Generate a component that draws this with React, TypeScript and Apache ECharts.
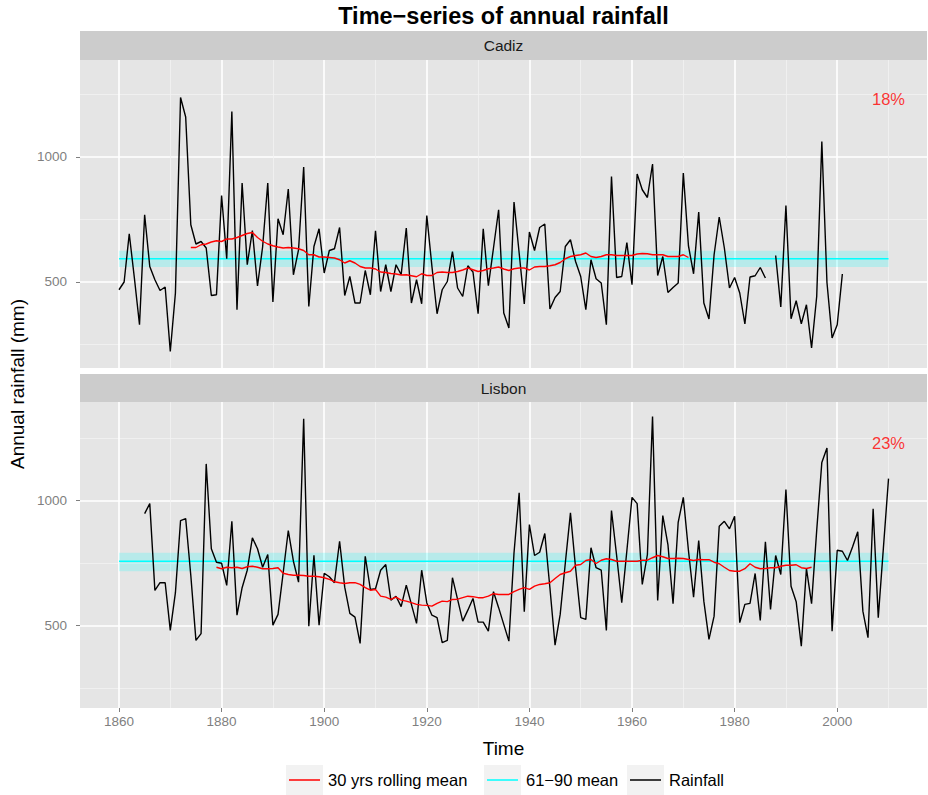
import React, { useEffect, useRef } from "react";
import * as echarts from "echarts";

// ---------------- data ----------------
const cadizStartYear = 1860;
const cadizRainfall = [
  468, 499, 692, 515, 328, 768, 561, 508, 465, 479,
  221, 455, 1237, 1159, 728, 651, 661, 635, 445, 448,
  845, 592, 1181, 388, 895, 568, 705, 483, 640, 895,
  419, 752, 688, 871, 528, 628, 959, 401, 641, 712,
  535, 625, 632, 717, 445, 521, 415, 415, 545, 448,
  704, 461, 568, 461, 568, 528, 715, 415, 508, 412,
  765, 561, 372, 468, 501, 621, 475, 441, 564, 539,
  372, 712, 484, 635, 788, 375, 315, 819, 615, 411,
  699, 625, 717, 731, 391, 437, 461, 641, 668, 581,
  521, 388, 588, 512, 495, 328, 921, 517, 521, 657,
  488, 931, 868, 837, 971, 525, 601, 457, 477, 495,
  935, 644, 532, 779, 415, 351, 608, 759, 635, 475,
  517, 455, 331, 519, 524, 557, 515, null, 605, 399,
  805, 352, 424, 332, 408, 235, 441, 1061, 497, 275,
  328, 531,
];
const cadizRollStartYear = 1874;
const cadizRolling = [
  637, 637, 648, 651, 659, 664, 661, 671, 671, 677,
  685, 693, 697, 677, 662, 651, 644, 639, 635, 637,
  635, 632, 625, 608, 608, 599, 599, 597, 595, 588,
  575, 584, 575, 561, 555, 555, 551, 539, 537, 533,
  531, 527, 528, 524, 520, 532, 525, 525, 537, 539,
  537, 537, 541, 547, 555, 548, 541, 545, 552, 555,
  559, 551, 545, 552, 555, 555, 547, 559, 561, 561,
  564, 568, 577, 592, 601, 605, 608, 615, 601, 597,
  601, 608, 608, 605, 605, 605, 605, 611, 613, 612,
  608, 608, 608, 601, 601, 601, 608, 597,
];
const lisbonStartYear = 1865;
const lisbonRainfall = [
  948, 988, 640, 671, 671, 480, 631, 920, 928, 700,
  440, 467, 1147, 807, 753, 749, 660, 917, 541, 651,
  721, 851, 807, 733, 784, 501, 544, 710, 880, 757,
  673, 1328, 497, 781, 501, 709, 695, 671, 837, 653,
  548, 533, 428, 777, 644, 647, 721, 744, 601, 617,
  575, 661, 584, 508, 721, 590, 541, 531, 431, 440,
  691, 604, 517, 561, 608, 513, 513, 477, 635, 571,
  504, 437, 791, 1031, 555, 904, 780, 793, 868, 650,
  421, 544, 750, 951, 730, 531, 524, 811, 731, 721,
  480, 960, 780, 591, 800, 1013, 988, 664, 784, 1337,
  600, 940, 824, 587, 913, 1013, 800, 613, 840, 597,
  444, 537, 897, 917, 887, 937, 511, 584, 588, 708,
  520, 835, 564, 780, 704, 1044, 657, 595, 417, 728,
  587, 880, 1153, 1211, 477, 801, 797, 760, 815, 875,
  557, 451, 967, 531, 810, 1088,
];
const lisbonRollStartYear = 1879;
const lisbonRolling = [
  733, 727, 733, 731, 733, 728, 735, 737, 733, 727,
  727, 728, 731, 709, 704, 701, 701, 700, 697, 697,
  695, 691, 684, 675, 671, 668, 671, 671, 664, 651,
  641, 644, 617, 613, 604, 613, 601, 597, 591, 584,
  581, 580, 577, 588, 597, 595, 604, 605, 611, 617,
  615, 611, 611, 617, 627, 624, 624, 624, 635, 644,
  651, 644, 657, 664, 667, 671, 688, 704, 711, 717,
  741, 744, 760, 764, 748, 761, 767, 764, 757, 757,
  757, 757, 757, 761, 761, 771, 780, 775, 768, 768,
  769, 768, 764, 760, 764, 763, 763, 753, 747, 733,
  720, 717, 717, 727, 747, 733, 727, 728, 731, 731,
  737, 741, 741, 743, 731, 728, 733,
];

const stationNames = ["Cadiz", "Lisbon"];
const refMeans = [592, 757];
const refBandLow = [559, 717];
const refBandHigh = [624, 791];
const refYears = [1860, 2010];
const changeLabels = ["18%", "23%"];
const changeLabelYear = 2010;
const changeLabelValue = 1232;

const xMajorTicks = [1860, 1880, 1900, 1920, 1940, 1960, 1980, 2000];
const xMinorTicks = [1870, 1890, 1910, 1930, 1950, 1970, 1990, 2010];
const yMajorTicks = [500, 1000];
const yMinorTicks = [250, 750, 1250];

const legendNames = ["30 yrs rolling mean", "61−90 mean", "Rainfall"];
const titleText = "Time−series of annual rainfall";
const xTitle = "Time";
const yTitle = "Annual rainfall (mm)";

// ---------------- styling / layout ----------------
const FONT = "'Liberation Sans', Arial, Helvetica, sans-serif";
const PANEL_LEFT = 80;
const PANEL_WIDTH = 847;
const panels = [
  { top: 60, height: 308, stripTop: 31, yMin: 155, yMax: 1387 },
  { top: 402, height: 306, stripTop: 374, yMin: 169, yMax: 1395 },
];
const X_MIN = 1852.4;
const X_MAX = 2017.5;
const COLORS = { roll: "#FF0000", ref: "#00FFFF", rain: "#000000" };
const legendLefts = [289, 487, 630];
const legendKeyLefts = [286, 484, 627];

function toPairs(start: number, values: (number | null)[]) {
  return values.map((v, i) => [start + i, v]);
}

const rainSeries = [
  toPairs(cadizStartYear, cadizRainfall),
  toPairs(lisbonStartYear, lisbonRainfall),
];
const rollSeries = [
  toPairs(cadizRollStartYear, cadizRolling),
  toPairs(lisbonRollStartYear, lisbonRolling),
];

function gridLines(color: string, width: number) {
  return {
    show: true,
    showMinLine: true,
    showMaxLine: true,
    lineStyle: { color, width },
  };
}

function buildOption() {
  const grid = panels.map((p) => ({
    left: PANEL_LEFT,
    top: p.top,
    width: PANEL_WIDTH,
    height: p.height,
    show: true,
    backgroundColor: "#E5E5E5",
    borderWidth: 0,
    containLabel: false,
  }));

  const xAxis: any[] = [];
  const yAxis: any[] = [];
  panels.forEach((p, i) => {
    const isBottom = i === panels.length - 1;
    xAxis.push({
      type: "value",
      gridIndex: i,
      min: X_MIN,
      max: X_MAX,
      position: "bottom",
      axisLine: { show: false },
      axisTick: {
        show: isBottom,
        customValues: xMajorTicks,
        length: 4,
        lineStyle: { color: "#7F7F7F", width: 1 },
      },
      axisLabel: {
        show: isBottom,
        customValues: xMajorTicks,
        color: "#7F7F7F",
        fontSize: 13.5,
        fontFamily: FONT,
        margin: 6,
        formatter: (v: number) => String(v),
      },
      splitLine: gridLines("#FFFFFF", 1.6),
    });
    xAxis.push({
      type: "value",
      gridIndex: i,
      min: X_MIN,
      max: X_MAX,
      position: "top",
      axisLine: { show: false },
      axisTick: { show: false, customValues: xMinorTicks },
      axisLabel: { show: false, customValues: xMinorTicks },
      splitLine: gridLines("#F2F2F2", 0.8),
    });
    yAxis.push({
      type: "value",
      gridIndex: i,
      min: p.yMin,
      max: p.yMax,
      position: "left",
      axisLine: { show: false },
      axisTick: {
        show: true,
        customValues: yMajorTicks,
        length: 4,
        lineStyle: { color: "#7F7F7F", width: 1 },
      },
      axisLabel: {
        show: true,
        customValues: yMajorTicks,
        color: "#7F7F7F",
        fontSize: 13.5,
        fontFamily: FONT,
        margin: 13,
        formatter: (v: number) => String(v),
      },
      splitLine: gridLines("#FFFFFF", 1.6),
    });
    yAxis.push({
      type: "value",
      gridIndex: i,
      min: p.yMin,
      max: p.yMax,
      position: "right",
      axisLine: { show: false },
      axisTick: { show: false, customValues: yMinorTicks },
      axisLabel: { show: false, customValues: yMinorTicks },
      splitLine: gridLines("#F2F2F2", 0.8),
    });
  });

  const series: any[] = [];
  panels.forEach((p, i) => {
    const xi = i * 2;
    const yi = i * 2;
    series.push({
      type: "line",
      name: legendNames[1],
      xAxisIndex: xi,
      yAxisIndex: yi,
      data: refYears.map((yr) => [yr, refMeans[i]]),
      symbol: "none",
      silent: true,
      itemStyle: { color: COLORS.ref },
      lineStyle: { color: COLORS.ref, width: 1.4 },
      markArea: {
        silent: true,
        itemStyle: { color: "rgba(0,255,255,0.2)" },
        label: { show: false },
        data: [
          [
            { xAxis: refYears[0], yAxis: refBandLow[i] },
            { xAxis: refYears[1], yAxis: refBandHigh[i] },
          ],
        ],
      },
    });
    series.push({
      type: "line",
      name: legendNames[2],
      xAxisIndex: xi,
      yAxisIndex: yi,
      data: rainSeries[i],
      symbol: "none",
      silent: true,
      connectNulls: false,
      itemStyle: { color: COLORS.rain },
      lineStyle: { color: COLORS.rain, width: 1.4 },
    });
    series.push({
      type: "line",
      name: legendNames[0],
      xAxisIndex: xi,
      yAxisIndex: yi,
      data: rollSeries[i],
      symbol: "none",
      silent: true,
      itemStyle: { color: COLORS.roll },
      lineStyle: { color: COLORS.roll, width: 1.4 },
    });
    series.push({
      type: "scatter",
      name: "change-" + stationNames[i],
      xAxisIndex: xi,
      yAxisIndex: yi,
      data: [[changeLabelYear, changeLabelValue]],
      symbolSize: 0,
      silent: true,
      label: {
        show: true,
        position: "inside",
        formatter: changeLabels[i],
        color: "#FF0000",
        fontSize: 16.5,
        fontFamily: FONT,
      },
    });
  });

  const legend = legendNames.map((name, i) => ({
    data: [name],
    left: legendLefts[i],
    top: 771,
    orient: "horizontal",
    padding: 0,
    itemGap: 0,
    itemWidth: 31,
    itemHeight: 1.5,
    icon: "rect",
    selectedMode: false,
    textStyle: {
      color: "#000000",
      fontSize: 16.5,
      fontFamily: FONT,
      lineHeight: 18,
      padding: [0, 0, 0, 3],
    },
  }));

  const graphic: any[] = [];
  panels.forEach((p, i) => {
    graphic.push({
      type: "rect",
      silent: true,
      shape: { x: PANEL_LEFT, y: p.stripTop, width: PANEL_WIDTH, height: p.top - p.stripTop },
      style: { fill: "#CCCCCC" },
    });
    graphic.push({
      type: "text",
      silent: true,
      x: PANEL_LEFT + PANEL_WIDTH / 2,
      y: (p.stripTop + p.top) / 2,
      style: {
        text: stationNames[i],
        fill: "#1A1A1A",
        fontSize: 15.5,
        fontFamily: FONT,
        align: "center",
        verticalAlign: "middle",
      },
    });
  });
  graphic.push({
    type: "text",
    silent: true,
    x: PANEL_LEFT + PANEL_WIDTH / 2,
    y: 16,
    style: {
      text: titleText,
      fill: "#000000",
      fontSize: 23.5,
      fontWeight: "bold",
      fontFamily: FONT,
      align: "center",
      verticalAlign: "middle",
    },
  });
  graphic.push({
    type: "text",
    silent: true,
    x: PANEL_LEFT + PANEL_WIDTH / 2,
    y: 748,
    style: {
      text: xTitle,
      fill: "#000000",
      fontSize: 19,
      fontFamily: FONT,
      align: "center",
      verticalAlign: "middle",
    },
  });
  graphic.push({
    type: "text",
    silent: true,
    x: 17,
    y: 384,
    rotation: Math.PI / 2,
    style: {
      text: yTitle,
      fill: "#000000",
      fontSize: 19,
      fontFamily: FONT,
      align: "center",
      verticalAlign: "middle",
    },
  });
  legendKeyLefts.forEach((x) => {
    graphic.push({
      type: "rect",
      silent: true,
      shape: { x, y: 765, width: 37, height: 30 },
      style: { fill: "#F2F2F2" },
    });
  });

  return {
    animation: false,
    backgroundColor: "#FFFFFF",
    textStyle: { fontFamily: FONT },
    grid,
    xAxis,
    yAxis,
    legend,
    graphic,
    series,
  };
}

export default function App() {
  const ref = useRef<HTMLDivElement>(null);
  useEffect(() => {
    if (!ref.current) return;
    const chart = echarts.init(ref.current, undefined, { renderer: "svg" });
    chart.setOption(buildOption() as any);
    return () => chart.dispose();
  }, []);
  return (
    <div
      ref={ref}
      style={{ position: "absolute", left: 0, top: 0, width: 928, height: 795 }}
    />
  );
}
